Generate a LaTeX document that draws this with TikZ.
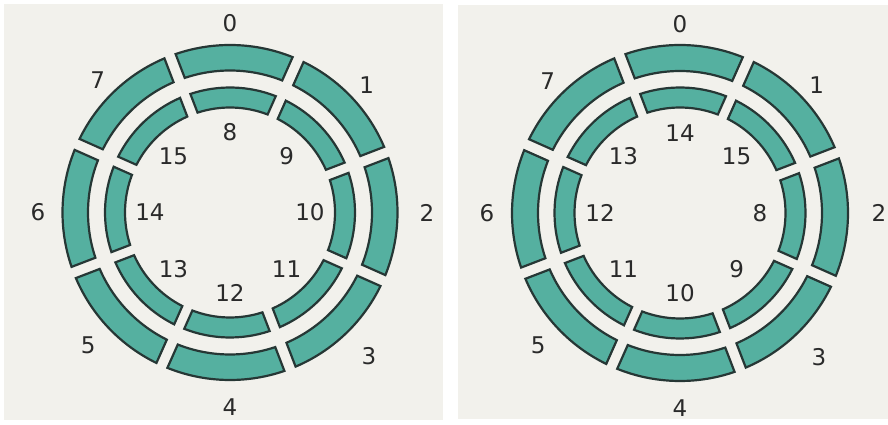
\documentclass[tikz,border=0pt]{standalone}
\usepackage{fontspec}
\setmainfont{DejaVu Sans}
\definecolor{segfill}{HTML}{55B0A0}
\definecolor{segedge}{HTML}{263735}
\definecolor{paper}{HTML}{F2F1EC}
\definecolor{ink}{HTML}{2A2A2A}
\tikzset{
  segbox/.style={fill=segfill, draw=segedge, line width=2.2pt, line join=miter},
  num/.style={font=\fontsize{23}{23}\selectfont, text=ink, inner sep=0pt}
}
% #1 centre angle, #2 outer radius, #3 inner radius, #4 half gap
\newcommand{\ringseg}[4]{%
  \pgfmathsetmacro\segao{asin(#4/#2)}%
  \pgfmathsetmacro\segai{asin(#4/#3)}%
  \pgfmathsetmacro\segso{#1-22.5+\segao}%
  \pgfmathsetmacro\segeo{#1+22.5-\segao}%
  \pgfmathsetmacro\segsi{#1-22.5+\segai}%
  \pgfmathsetmacro\segei{#1+22.5-\segai}%
  \draw[segbox] (\segso:#2) arc[start angle=\segso, end angle=\segeo, radius=#2]
     -- (\segei:#3) arc[start angle=\segei, end angle=\segsi, radius=#3] -- cycle;%
}
\begin{document}
\begin{tikzpicture}[x=1pt,y=1pt]
\useasboundingbox (0,0) rectangle (888,425);
\fill[white] (0,0) rectangle (888,425);
\fill[paper] (4,5) rectangle (443,421);
\fill[paper] (458,6) rectangle (888,420);

% ---------- left panel ----------
\begin{scope}[shift={(230,212.5)}]
  \foreach \i in {0,...,7} {
    \ringseg{90-45*\i-1.5}{167.5}{142}{6}
    \ringseg{90-45*\i-1.5}{125}{105}{5.5}
  }
  \foreach \i/\a/\r in {0/90/189,1/43/187,2/0/197,3/-46/200,4/-90/195,5/-137/194,6/180/192,7/135/187}
    \node[num] (L\i) at (\a:\r) {\i};
  \foreach \k in {0,...,7} {
    \pgfmathtruncatemacro\lab{8+\k}
    \node[num] (Li\k) at ({90-45*\k}:80) {\lab};
  }
\end{scope}

% ---------- right panel ----------
\begin{scope}[shift={(680,212)}]
  \foreach \i in {0,...,7} {
    \ringseg{90-45*\i-1.5}{168}{142}{6}
    \ringseg{90-45*\i-1.5}{125.5}{105.5}{5.5}
  }
  \foreach \i/\a/\r in {0/90/189,1/43/187,2/0/199,3/-46/200,4/-90/195,5/-137/194,6/180/193,7/135/187}
    \node[num] (R\i) at (\a:\r) {\i};
  \foreach \k in {0,...,7} {
    \pgfmathtruncatemacro\lab{8+mod(\k+6,8)}
    \node[num] (Ri\k) at ({90-45*\k}:80) {\lab};
  }
\end{scope}
\end{tikzpicture}
\end{document}
